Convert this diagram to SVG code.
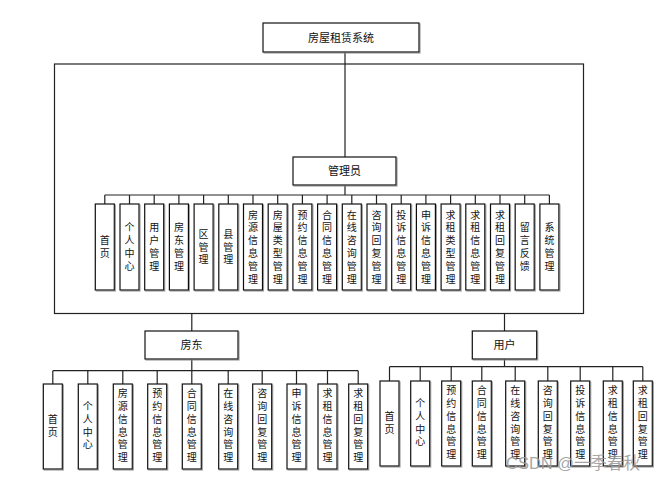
<svg xmlns="http://www.w3.org/2000/svg" width="659" height="481" viewBox="0 0 659 481">
<defs>
<filter id="sh" x="-20%" y="-20%" width="150%" height="150%"><feDropShadow dx="1" dy="1" stdDeviation="0.4" flood-color="#888" flood-opacity="0.8"/></filter>
<style>
.b{fill:#fff;stroke:#111;stroke-width:1.2;filter:url(#sh)}
.t{font-family:"Noto Sans CJK SC","Noto Sans",sans-serif;font-size:10px;fill:#111;text-anchor:middle}
.h{font-family:"Noto Sans CJK SC","Noto Sans",sans-serif;font-size:11px;fill:#111;text-anchor:middle}
.c{fill:none;stroke:#222;stroke-width:1.2}
</style>
</defs>
<rect width="659" height="481" fill="#fff"/>
<g id="connectors">
<rect class="c" x="54.5" y="64" width="529" height="249.5"/>
<path class="c" d="M345 52V157M345 185V195M104.8 195H549.4"/>
<path class="c" d="M104.8 195V204M129.5 195V204M154.2 195V204M178.9 195V204M203.6 195V204M228.3 195V204M253 195V204M277.7 195V204M302.4 195V204M327.1 195V204M351.8 195V204M376.5 195V204M401.2 195V204M425.9 195V204M450.6 195V204M475.3 195V204M500 195V204M524.7 195V204M549.4 195V204"/>
<path class="c" d="M191.8 313.5V331M191.8 359V370.7M52.8 370.7H358.2M52.8 370.7V384M87.8 370.7V384M122.8 370.7V384M157.2 370.7V384M191.8 370.7V384M228.2 370.7V384M262.2 370.7V384M296.5 370.7V384M327.5 370.7V384M358.2 370.7V384"/>
<path class="c" d="M504.5 313.5V331M504.5 359V366.7M389.5 366.7H642.8M389.5 366.7V381M420.2 366.7V381M451.2 366.7V381M481.8 366.7V381M515.2 366.7V381M547.8 366.7V381M580.2 366.7V381M612.8 366.7V381M642.8 366.7V381"/>
</g>
<g id="root"><rect class="b" x="263" y="23" width="156" height="29"/><text class="h" x="341" y="41.5">房屋租赁系统</text></g>
<g id="admin"><rect class="b" x="293" y="157" width="103" height="28"/><text class="h" x="344.5" y="175">管理员</text></g>
<g id="landlord"><rect class="b" x="145" y="331" width="93" height="28"/><text class="h" x="191.5" y="349">房东</text></g>
<g id="user"><rect class="b" x="472.3" y="331" width="64.4" height="28"/><text class="h" x="504.5" y="349">用户</text></g>

<g id="a1"><rect class="b" x="95.3" y="204" width="19" height="86"/><text class="t" x="104.8 104.8" y="244.2 257">首页</text></g>
<g id="a2"><rect class="b" x="120" y="204" width="19" height="86"/><text class="t" x="129.5 129.5 129.5 129.5" y="231.4 244.2 257 269.8">个人中心</text></g>
<g id="a3"><rect class="b" x="144.7" y="204" width="19" height="86"/><text class="t" x="154.2 154.2 154.2 154.2" y="231.4 244.2 257 269.8">用户管理</text></g>
<g id="a4"><rect class="b" x="169.4" y="204" width="19" height="86"/><text class="t" x="178.9 178.9 178.9 178.9" y="231.4 244.2 257 269.8">房东管理</text></g>
<g id="a5"><rect class="b" x="194.1" y="204" width="19" height="86"/><text class="t" x="203.6 203.6 203.6" y="237.8 250.6 263.4">区管理</text></g>
<g id="a6"><rect class="b" x="218.8" y="204" width="19" height="86"/><text class="t" x="228.3 228.3 228.3" y="237.8 250.6 263.4">县管理</text></g>
<g id="a7"><rect class="b" x="243.5" y="204" width="19" height="86"/><text class="t" x="253 253 253 253 253 253" y="218.6 231.4 244.2 257 269.8 282.6">房源信息管理</text></g>
<g id="a8"><rect class="b" x="268.2" y="204" width="19" height="86"/><text class="t" x="277.7 277.7 277.7 277.7 277.7 277.7" y="218.6 231.4 244.2 257 269.8 282.6">房屋类型管理</text></g>
<g id="a9"><rect class="b" x="292.9" y="204" width="19" height="86"/><text class="t" x="302.4 302.4 302.4 302.4 302.4 302.4" y="218.6 231.4 244.2 257 269.8 282.6">预约信息管理</text></g>
<g id="a10"><rect class="b" x="317.6" y="204" width="19" height="86"/><text class="t" x="327.1 327.1 327.1 327.1 327.1 327.1" y="218.6 231.4 244.2 257 269.8 282.6">合同信息管理</text></g>
<g id="a11"><rect class="b" x="342.3" y="204" width="19" height="86"/><text class="t" x="351.8 351.8 351.8 351.8 351.8 351.8" y="218.6 231.4 244.2 257 269.8 282.6">在线咨询管理</text></g>
<g id="a12"><rect class="b" x="367" y="204" width="19" height="86"/><text class="t" x="376.5 376.5 376.5 376.5 376.5 376.5" y="218.6 231.4 244.2 257 269.8 282.6">咨询回复管理</text></g>
<g id="a13"><rect class="b" x="391.7" y="204" width="19" height="86"/><text class="t" x="401.2 401.2 401.2 401.2 401.2 401.2" y="218.6 231.4 244.2 257 269.8 282.6">投诉信息管理</text></g>
<g id="a14"><rect class="b" x="416.4" y="204" width="19" height="86"/><text class="t" x="425.9 425.9 425.9 425.9 425.9 425.9" y="218.6 231.4 244.2 257 269.8 282.6">申诉信息管理</text></g>
<g id="a15"><rect class="b" x="441.1" y="204" width="19" height="86"/><text class="t" x="450.6 450.6 450.6 450.6 450.6 450.6" y="218.6 231.4 244.2 257 269.8 282.6">求租类型管理</text></g>
<g id="a16"><rect class="b" x="465.8" y="204" width="19" height="86"/><text class="t" x="475.3 475.3 475.3 475.3 475.3 475.3" y="218.6 231.4 244.2 257 269.8 282.6">求租信息管理</text></g>
<g id="a17"><rect class="b" x="490.5" y="204" width="19" height="86"/><text class="t" x="500 500 500 500 500 500" y="218.6 231.4 244.2 257 269.8 282.6">求租回复管理</text></g>
<g id="a18"><rect class="b" x="515.2" y="204" width="19" height="86"/><text class="t" x="524.7 524.7 524.7 524.7" y="231.4 244.2 257 269.8">留言反馈</text></g>
<g id="a19"><rect class="b" x="539.9" y="204" width="19" height="86"/><text class="t" x="549.4 549.4 549.4 549.4" y="231.4 244.2 257 269.8">系统管理</text></g>

<g id="l1"><rect class="b" x="43.3" y="384" width="19" height="85"/><text class="t" x="52.8 52.8" y="422.7 435.5">首页</text></g>
<g id="l2"><rect class="b" x="78.3" y="384" width="19" height="85"/><text class="t" x="87.8 87.8 87.8 87.8" y="409.9 422.7 435.5 448.3">个人中心</text></g>
<g id="l3"><rect class="b" x="113.3" y="384" width="19" height="85"/><text class="t" x="122.8 122.8 122.8 122.8 122.8 122.8" y="397.1 409.9 422.7 435.5 448.3 461.1">房源信息管理</text></g>
<g id="l4"><rect class="b" x="147.7" y="384" width="19" height="85"/><text class="t" x="157.2 157.2 157.2 157.2 157.2 157.2" y="397.1 409.9 422.7 435.5 448.3 461.1">预约信息管理</text></g>
<g id="l5"><rect class="b" x="182.3" y="384" width="19" height="85"/><text class="t" x="191.8 191.8 191.8 191.8 191.8 191.8" y="397.1 409.9 422.7 435.5 448.3 461.1">合同信息管理</text></g>
<g id="l6"><rect class="b" x="218.7" y="384" width="19" height="85"/><text class="t" x="228.2 228.2 228.2 228.2 228.2 228.2" y="397.1 409.9 422.7 435.5 448.3 461.1">在线咨询管理</text></g>
<g id="l7"><rect class="b" x="252.7" y="384" width="19" height="85"/><text class="t" x="262.2 262.2 262.2 262.2 262.2 262.2" y="397.1 409.9 422.7 435.5 448.3 461.1">咨询回复管理</text></g>
<g id="l8"><rect class="b" x="287" y="384" width="19" height="85"/><text class="t" x="296.5 296.5 296.5 296.5 296.5 296.5" y="397.1 409.9 422.7 435.5 448.3 461.1">申诉信息管理</text></g>
<g id="l9"><rect class="b" x="318" y="384" width="19" height="85"/><text class="t" x="327.5 327.5 327.5 327.5 327.5 327.5" y="397.1 409.9 422.7 435.5 448.3 461.1">求租信息管理</text></g>
<g id="l10"><rect class="b" x="348.7" y="384" width="19" height="85"/><text class="t" x="358.2 358.2 358.2 358.2 358.2 358.2" y="397.1 409.9 422.7 435.5 448.3 461.1">求租回复管理</text></g>

<g id="u1"><rect class="b" x="380" y="381" width="19" height="85"/><text class="t" x="389.5 389.5" y="419.7 432.5">首页</text></g>
<g id="u2"><rect class="b" x="410.7" y="381" width="19" height="85"/><text class="t" x="420.2 420.2 420.2 420.2" y="406.9 419.7 432.5 445.3">个人中心</text></g>
<g id="u3"><rect class="b" x="441.7" y="381" width="19" height="85"/><text class="t" x="451.2 451.2 451.2 451.2 451.2 451.2" y="394.1 406.9 419.7 432.5 445.3 458.1">预约信息管理</text></g>
<g id="u4"><rect class="b" x="472.3" y="381" width="19" height="85"/><text class="t" x="481.8 481.8 481.8 481.8 481.8 481.8" y="394.1 406.9 419.7 432.5 445.3 458.1">合同信息管理</text></g>
<g id="u5"><rect class="b" x="505.7" y="381" width="19" height="85"/><text class="t" x="515.2 515.2 515.2 515.2 515.2 515.2" y="394.1 406.9 419.7 432.5 445.3 458.1">在线咨询管理</text></g>
<g id="u6"><rect class="b" x="538.3" y="381" width="19" height="85"/><text class="t" x="547.8 547.8 547.8 547.8 547.8 547.8" y="394.1 406.9 419.7 432.5 445.3 458.1">咨询回复管理</text></g>
<g id="u7"><rect class="b" x="570.7" y="381" width="19" height="85"/><text class="t" x="580.2 580.2 580.2 580.2 580.2 580.2" y="394.1 406.9 419.7 432.5 445.3 458.1">投诉信息管理</text></g>
<g id="u8"><rect class="b" x="603.3" y="381" width="19" height="85"/><text class="t" x="612.8 612.8 612.8 612.8 612.8 612.8" y="394.1 406.9 419.7 432.5 445.3 458.1">求租信息管理</text></g>
<g id="u9"><rect class="b" x="633.3" y="381" width="19" height="85"/><text class="t" x="642.8 642.8 642.8 642.8 642.8 642.8" y="394.1 406.9 419.7 432.5 445.3 458.1">求租回复管理</text></g>

<text x="506" y="469" font-family="'Liberation Sans','Noto Sans CJK SC',sans-serif" font-size="16.5" fill="#9a9a9a" fill-opacity="0.9">CSDN @一季春秋</text>
</svg>
